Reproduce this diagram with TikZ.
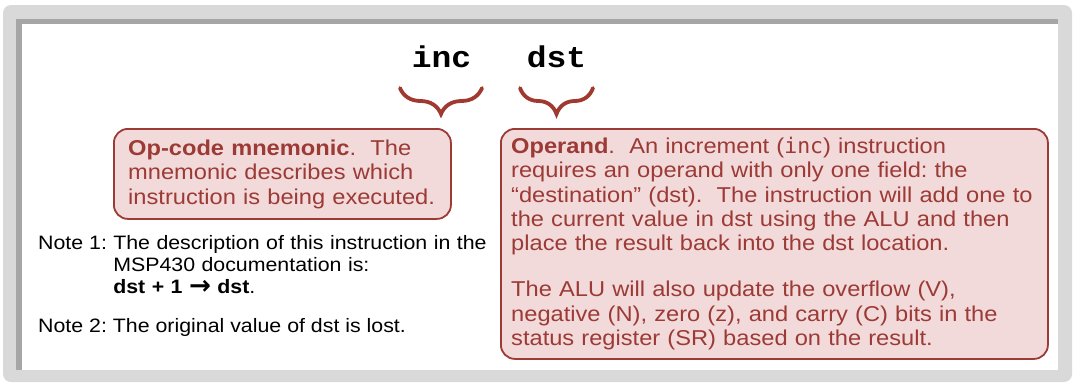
\documentclass[tikz,border=0pt]{standalone}
\usepackage{fontspec}
\setmainfont{Liberation Sans}[FakeStretch=1.1]
\newfontfamily\codefont{Liberation Mono}[FakeStretch=1.1]
\newfontfamily\inlinefont{DejaVu Sans Mono}
\newfontfamily\arrowfont{DejaVu Sans}
\usetikzlibrary{positioning,decorations.pathreplacing}
\definecolor{frmgray}{HTML}{D9D9D9}
\definecolor{shdgray}{HTML}{A6A6A6}
\definecolor{notered}{HTML}{9C3A36}
\definecolor{notefill}{HTML}{F2DADA}
\definecolor{brcred}{HTML}{A03A30}
\tikzset{
  codeword/.style={font=\codefont\bfseries\fontsize{30}{30}\selectfont,inner sep=0pt,anchor=base},
  notebox/.style={draw=notered,fill=notefill,line width=1.8pt,rounded corners=14pt,anchor=north west,inner sep=0pt},
  notetxt/.style={text=notered,font=\fontsize{21.5}{24.3}\selectfont,align=left,inner sep=0pt,anchor=base west},
  plaintxt/.style={font=\fontsize{19.4}{22}\selectfont,align=left,inner sep=0pt,anchor=base west},
  brc/.style={decorate,decoration={brace,amplitude=26pt},draw=brcred,line width=3.8pt,line cap=round}
}
\frenchspacing
\begin{document}
\begin{tikzpicture}[x=1pt,y=-1pt]
  \useasboundingbox (0,0) rectangle (1073,383);
  % frame
  \fill[frmgray,rounded corners=8pt] (3,5) rectangle (1072,382);
  \fill[shdgray] (16,19) rectangle (1058,370);
  \fill[white] (22,24) rectangle (1058,370);

  % instruction
  \node[codeword] (inc) at (441.5,67) {inc};
  \node[codeword] (dst) at ([xshift=115pt]inc.base) {dst};
  \draw[brc] ([xshift=40.5pt,yshift=-21pt]inc.base) -- ([xshift=-41.5pt,yshift=-21pt]inc.base);
  \draw[brc] ([xshift=36.5pt,yshift=-21pt]dst.base) -- ([xshift=-36.5pt,yshift=-21pt]dst.base);

  % boxes
  \node[notebox,minimum width=337pt,minimum height=90pt] (opbox) at (113,128) {};
  \node[notebox,minimum width=547pt,minimum height=230pt] (oprbox) at (500,128) {};
  \node[notetxt,text width=320pt] (optxt) at (128,155.5)
    {\textbf{Op-code mnemonic}.\ \ The\\mnemonic describes which\\instruction is being executed.};
  \node[notetxt,text width=536pt] (oprtxt) at (511,153.5)
    {\textbf{Operand}.\ \ An increment ({\inlinefont inc}) instruction\\
     requires an operand with only one field: the\\
     “destination” (dst).\ \ The instruction will add one to\\
     the current value in dst using the ALU and then\\
     place the result back into the dst location.\\[21.7pt]
     The ALU will also update the overflow (V),\\
     negative (N), zero (z), and carry (C) bits in the\\
     status register (SR) based on the result.};

  % notes
  \node[plaintxt] (n1lbl) at (38,249) {Note 1:};
  \node[plaintxt,text width=400pt] (n1txt) at ([xshift=5.9pt]n1lbl.base east)
    {The description of this instruction in the\\MSP430 documentation is:\\\textbf{dst + 1 \raisebox{-1pt}{\scalebox{1.35}{\arrowfont →}} dst}.};
  \node[plaintxt] (n2) at (38,332) {Note 2: The original value of dst is lost.};
\end{tikzpicture}
\end{document}
